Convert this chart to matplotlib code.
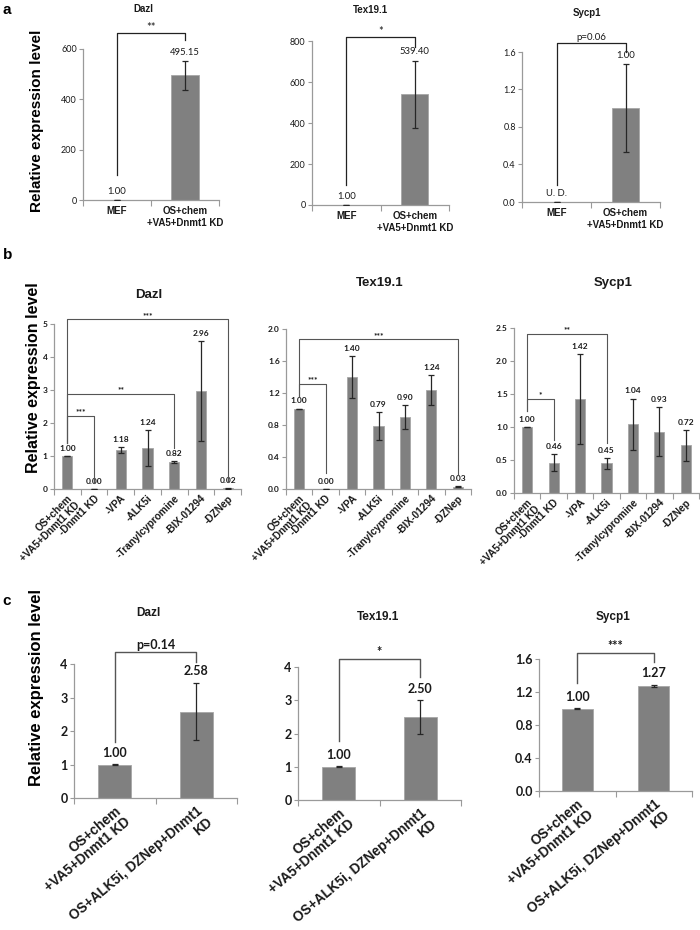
import numpy as np
import matplotlib
matplotlib.use("Agg")
import matplotlib.pyplot as plt

# ---------------- data ----------------
genes = ["Dazl", "Tex19.1", "Sycp1"]

# panel a
a_cats = ["MEF", "OS+chem\n+VA5+Dnmt1 KD"]
a_dazl = [1.00, 495.15]
a_dazl_err = [0.0, 58.0]
a_tex = [1.00, 539.40]
a_tex_err = [0.0, 165.0]
a_sycp = [0.0, 1.00]
a_sycp_err = [0.0, 0.47]
a_dazl_lab = ["1.00", "495.15"]
a_tex_lab = ["1.00", "539.40"]
a_sycp_lab = ["U. D.", "1.00"]
a_dazl_br = [(0, 1, 99, 662, 636, "**")]
a_tex_br = [(0, 1, 98, 818, 772, "*")]
a_sycp_br = [(0, 1, 0.178, 1.696, 1.60, "p=0.06")]

# panel b
b_cats = ["OS+chem\n+VA5+Dnmt1 KD", "-Dnmt1 KD", "-VPA", "-ALK5i",
          "-Tranylcypromine", "-BIX-01294", "-DZNep"]
b_dazl = [1.00, 0.00, 1.18, 1.24, 0.82, 2.96, 0.02]
b_dazl_err = [0.01, 0.0, 0.09, 0.55, 0.03, 1.52, 0.01]
b_tex = [1.00, 0.00, 1.40, 0.79, 0.90, 1.24, 0.03]
b_tex_err = [0.005, 0.0, 0.26, 0.175, 0.145, 0.185, 0.01]
b_sycp = [1.00, 0.46, 1.42, 0.45, 1.04, 0.93, 0.72]
b_sycp_err = [0.005, 0.125, 0.68, 0.08, 0.39, 0.37, 0.23]
b_dazl_br = [(0, 1, 1.39, 2.22, 0.18, "***"), (0, 4, 1.39, 2.87, 1.25, "**"),
             (0, 6, 1.39, 5.14, 0.22, "***")]
b_tex_br = [(0, 1, 1.16, 1.317, 0.20, "***"), (0, 6, 1.16, 1.87, 0.17, "***")]
b_sycp_br = [(0, 1, 1.25, 1.424, 0.80, "*"), (0, 3, 1.25, 2.41, 0.76, "**")]

# panel c
c_cats = ["OS+chem\n+VA5+Dnmt1 KD", "OS+ALK5i, DZNep+Dnmt1\nKD"]
c_dazl = [1.00, 2.58]
c_dazl_err = [0.01, 0.86]
c_tex = [1.00, 2.50]
c_tex_err = [0.01, 0.50]
c_sycp = [1.00, 1.27]
c_sycp_err = [0.003, 0.015]
c_dazl_br = [(0, 1, 1.68, 4.36, 4.07, "p=0.14")]
c_tex_br = [(0, 1, 1.76, 4.24, 3.71, "*")]
c_sycp_br = [(0, 1, 1.305, 1.67, 1.567, "***")]

# ---------------- style ----------------
W, H = 700, 930
fig = plt.figure(figsize=(7, 9.3), dpi=100)
fig.patch.set_facecolor("white")

SANS = ["Liberation Sans", "DejaVu Sans"]
NUM = ["Lato", "DejaVu Sans"]
BAR = "#808080"
BAR_EDGE = "#a6a6a6"
SPINE = "#9a9a9a"
ERR = "#262626"
TXT = "#1a1a1a"


def add_ax(x0, y0, x1, y1):
    return fig.add_axes([x0 / W, 1 - y1 / H, (x1 - x0) / W, (y1 - y0) / H])


def ftext(x, y, s, **kw):
    fig.text(x / W, 1 - y / H, s, **kw)


def fmt_labels(ticks, dec):
    return [f"{t:.{dec}f}" for t in ticks]


def draw(ax, cats, vals, errs, labels, ymax, ystep, dec, brackets, st):
    n = len(cats)
    x = np.arange(n)
    ax.bar(x, vals, width=st["bw"], color=BAR, edgecolor=BAR_EDGE,
           linewidth=0.6, zorder=2)
    ax.errorbar(x, vals, yerr=errs, fmt="none", ecolor=ERR, elinewidth=0.9,
                capsize=st["cap"], capthick=0.9, zorder=3)
    ax.set_xlim(-0.5, n - 0.5)
    ax.set_ylim(0, ymax)
    ticks = np.arange(0, ymax + ystep / 2, ystep)
    ax.set_yticks(ticks)
    ax.set_yticklabels(fmt_labels(ticks, dec), family=NUM,
                       fontsize=st["tfs"], fontweight=st["tfw"], color=TXT)
    for s in ["top", "right"]:
        ax.spines[s].set_visible(False)
    for s in ["left", "bottom"]:
        ax.spines[s].set_color(SPINE)
        ax.spines[s].set_linewidth(0.9)
    ax.tick_params(axis="y", length=3, width=0.8, color=SPINE, pad=1.5)
    ax.set_xticks(x)
    ax.set_xticks(np.arange(n + 1) - 0.5, minor=True)
    ax.tick_params(axis="x", which="major", length=0, pad=st["xpad"])
    ax.tick_params(axis="x", which="minor", length=4, width=0.8, color=SPINE)
    if st["rot"]:
        ax.set_xticklabels(cats, rotation=st["rot"], ha="right", va="top",
                           rotation_mode="anchor", multialignment="right",
                           family=SANS, fontweight="bold", fontsize=st["xfs"],
                           color=TXT, linespacing=1.05)
    else:
        ax.set_xticklabels(cats, family=SANS, fontweight="bold",
                           fontsize=st["xfs"], color=TXT, linespacing=1.25)
    # value labels
    for xi, v, e, lab in zip(x, vals, errs, labels):
        ax.annotate(lab, (xi, v + e), xytext=(0, st["voff"]),
                    textcoords="offset points", ha="center", va="bottom",
                    family=NUM, fontsize=st["vfs"], fontweight=st["vfw"],
                    color=TXT, annotation_clip=False)
    # significance brackets
    for i, j, yl, yt, yr, lab in brackets:
        ax.plot([i, i, j, j], [yl, yt, yt, yr], color=st["bcol"],
                lw=st["blw"], clip_on=False, zorder=4)
        ax.annotate(lab, ((i + j) / 2, yt), xytext=(0, st["soff"]),
                    textcoords="offset points", ha="center", va="bottom",
                    family=NUM, fontsize=st["sfs"], fontweight=st["sfw"],
                    color=TXT, annotation_clip=False)


st_a = dict(bw=0.4, cap=2.5, tfs=6.5, tfw="normal", xpad=4, rot=0, xfs=7,
            voff=3, vfs=6.8, vfw="normal", bcol="#222222", blw=0.9, soff=0.5,
            sfs=8, sfw="normal")
st_a_p = dict(st_a, sfs=7)
st_b = dict(bw=0.38, cap=2, tfs=6, tfw="bold", xpad=3, rot=45, xfs=7.3,
            voff=3, vfs=6, vfw="bold", bcol="#555555", blw=0.8, soff=0.5,
            sfs=6, sfw="bold")
st_c = dict(bw=0.4, cap=2.5, tfs=9, tfw="bold", xpad=4, rot=40, xfs=9.8,
            voff=4, vfs=9, vfw="bold", bcol="#555555", blw=1.0, soff=1,
            sfs=9, sfw="bold")

# ---------------- panel a ----------------
ax = add_ax(83, 49, 219, 200)
draw(ax, a_cats, a_dazl, a_dazl_err, a_dazl_lab, 600, 200, 0, a_dazl_br, st_a)
ax = add_ax(312, 41, 449, 205)
draw(ax, a_cats, a_tex, a_tex_err, a_tex_lab, 800, 200, 0, a_tex_br, st_a)
ax = add_ax(522, 52, 660, 202)
draw(ax, a_cats, a_sycp, a_sycp_err, a_sycp_lab, 1.6, 0.4, 1, a_sycp_br, st_a_p)

# ---------------- panel b ----------------
ax = add_ax(54, 324, 241, 489)
draw(ax, b_cats, b_dazl, b_dazl_err, fmt_labels(b_dazl, 2), 5, 1, 0, b_dazl_br, st_b)
ax = add_ax(286, 329, 471, 489)
draw(ax, b_cats, b_tex, b_tex_err, fmt_labels(b_tex, 2), 2.0, 0.4, 1, b_tex_br, st_b)
ax = add_ax(514, 328, 699, 493)
draw(ax, b_cats, b_sycp, b_sycp_err, fmt_labels(b_sycp, 2), 2.5, 0.5, 1, b_sycp_br, st_b)

# ---------------- panel c ----------------
ax = add_ax(74, 664, 237, 798)
draw(ax, c_cats, c_dazl, c_dazl_err, fmt_labels(c_dazl, 2), 4, 1, 0, c_dazl_br, st_c)
ax = add_ax(298, 667, 461, 800)
draw(ax, c_cats, c_tex, c_tex_err, fmt_labels(c_tex, 2), 4, 1, 0, c_tex_br, st_c)
ax = add_ax(539, 659, 692, 791)
draw(ax, c_cats, c_sycp, c_sycp_err, fmt_labels(c_sycp, 2), 1.6, 0.4, 1, c_sycp_br, st_c)

# ---------------- titles & labels ----------------
for (x, y), g in zip([(143, 9), (370, 10), (587, 13)], genes):
    ftext(x, y, g, family=SANS, fontweight="bold", fontsize=7, color=TXT,
          ha="center", va="center")
for (x, y), g in zip([(149, 295), (380, 283), (613, 283)], genes):
    ftext(x, y, g, family=SANS, fontweight="bold", fontsize=9.5, color=TXT,
          ha="center", va="center")
for (x, y), g in zip([(148, 613), (378, 617), (613, 617)], genes):
    ftext(x, y, g, family=SANS, fontweight="bold", fontsize=8.5, color=TXT,
          ha="center", va="center")

for (x, y), lab in zip([(7, 10), (8, 255), (7, 601)], ["a", "b", "c"]):
    ftext(x, y, lab, family=SANS, fontweight="bold", fontsize=11, color="black",
          ha="center", va="center")

for (x, y, fs) in [(37, 121, 11), (34, 378, 11.5), (37, 688, 12)]:
    ftext(x, y, "Relative expression level", family=SANS, fontweight="bold",
          fontsize=fs, color="black", rotation=90, ha="center", va="center")

fig.savefig("out.png", dpi=100, facecolor="white")
